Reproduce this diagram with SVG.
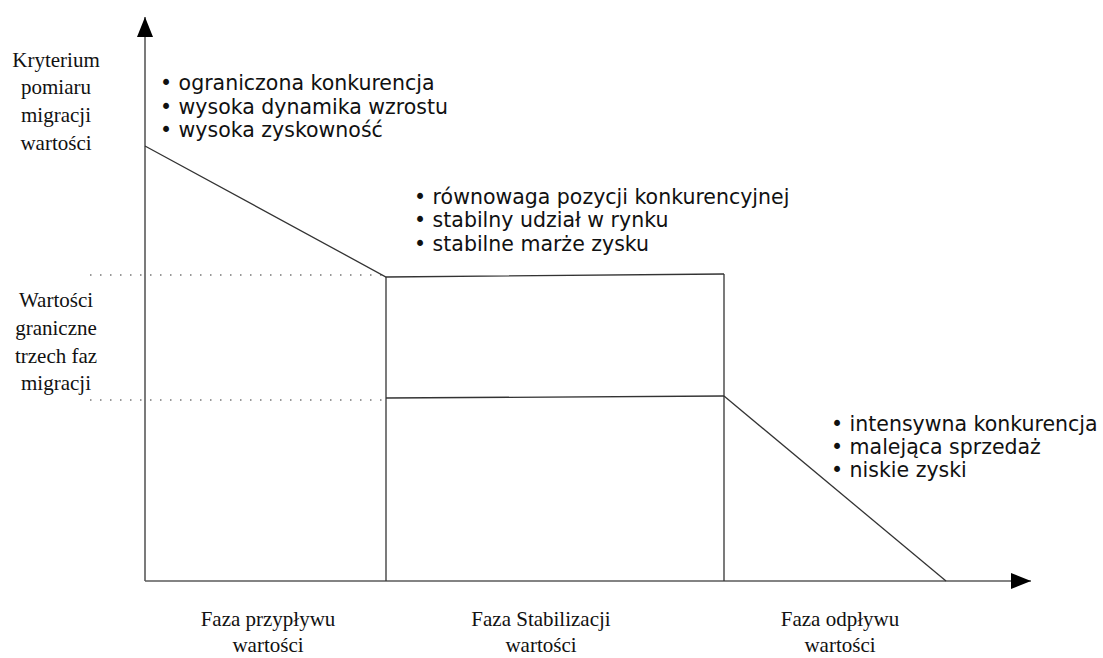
<svg xmlns="http://www.w3.org/2000/svg" width="1103" height="658" viewBox="0 0 1103 658">
  <style>
    .axis { stroke: #5a5a5a; stroke-width: 1.6; fill: none; }
    .curve { stroke: #333; stroke-width: 1.3; fill: none; }
    .guide { stroke: #777; stroke-width: 1.6; stroke-dasharray: 1.5 8.5; fill: none; }
    .label { font-family: "Liberation Serif", "Times New Roman", serif; font-size: 21px; fill: #111; text-anchor: middle; }
    .bullets { font-family: "DejaVu Sans", Verdana, sans-serif; font-size: 20.5px; fill: #111; }
  </style>
  <defs>
    <marker id="arrow" viewBox="0 0 20 16" refX="20" refY="8" markerWidth="20" markerHeight="16" markerUnits="userSpaceOnUse" orient="auto">
      <path d="M0,0 L20,8 L0,16 Z" fill="#000"/>
    </marker>
  </defs>
  <rect width="1103" height="658" fill="#fff"/>

  <!-- axes -->
  <g id="axes">
    <line class="axis" x1="145" y1="581" x2="145" y2="17" marker-end="url(#arrow)"/>
    <line class="axis" x1="145" y1="581" x2="1031" y2="581" marker-end="url(#arrow)"/>
  </g>

  <!-- value migration curve and phase boundaries -->
  <g id="connectors">
    <line class="guide" x1="90" y1="275" x2="386" y2="275"/>
    <line class="guide" x1="90" y1="400" x2="386" y2="400"/>
    <polyline class="curve" points="145,146 386,277 724,274"/>
    <line class="curve" x1="386" y1="398" x2="724" y2="396"/>
    <polyline class="curve" points="724,396 946,581"/>
    <line class="curve" x1="386" y1="277" x2="386" y2="581"/>
    <line class="curve" x1="724" y1="274" x2="724" y2="581"/>
  </g>

  <!-- y-axis captions -->
  <g id="y-criterion">
    <text class="label" x="56" y="67">Kryterium</text>
    <text class="label" x="56" y="94">pomiaru</text>
    <text class="label" x="56" y="122">migracji</text>
    <text class="label" x="56" y="150">wartości</text>
  </g>
  <g id="y-thresholds">
    <text class="label" x="56" y="307">Wartości</text>
    <text class="label" x="56" y="335">graniczne</text>
    <text class="label" x="56" y="363">trzech faz</text>
    <text class="label" x="56" y="390">migracji</text>
  </g>

  <!-- phase descriptions -->
  <g id="inflow-traits" class="bullets">
    <text x="160" y="90">• ograniczona konkurencja</text>
    <text x="160" y="114">• wysoka dynamika wzrostu</text>
    <text x="160" y="137">• wysoka zyskowność</text>
  </g>
  <g id="stability-traits" class="bullets">
    <text x="414" y="204">• równowaga pozycji konkurencyjnej</text>
    <text x="414" y="227">• stabilny udział w rynku</text>
    <text x="414" y="251">• stabilne marże zysku</text>
  </g>
  <g id="outflow-traits" class="bullets">
    <text x="831" y="431">• intensywna konkurencja</text>
    <text x="831" y="454">• malejąca sprzedaż</text>
    <text x="831" y="477">• niskie zyski</text>
  </g>

  <!-- phase names -->
  <g id="phase-inflow">
    <text class="label" x="268" y="626">Faza przypływu</text>
    <text class="label" x="268" y="652">wartości</text>
  </g>
  <g id="phase-stabilization">
    <text class="label" x="541" y="626">Faza Stabilizacji</text>
    <text class="label" x="541" y="652">wartości</text>
  </g>
  <g id="phase-outflow">
    <text class="label" x="840" y="626">Faza odpływu</text>
    <text class="label" x="840" y="652">wartości</text>
  </g>
</svg>
